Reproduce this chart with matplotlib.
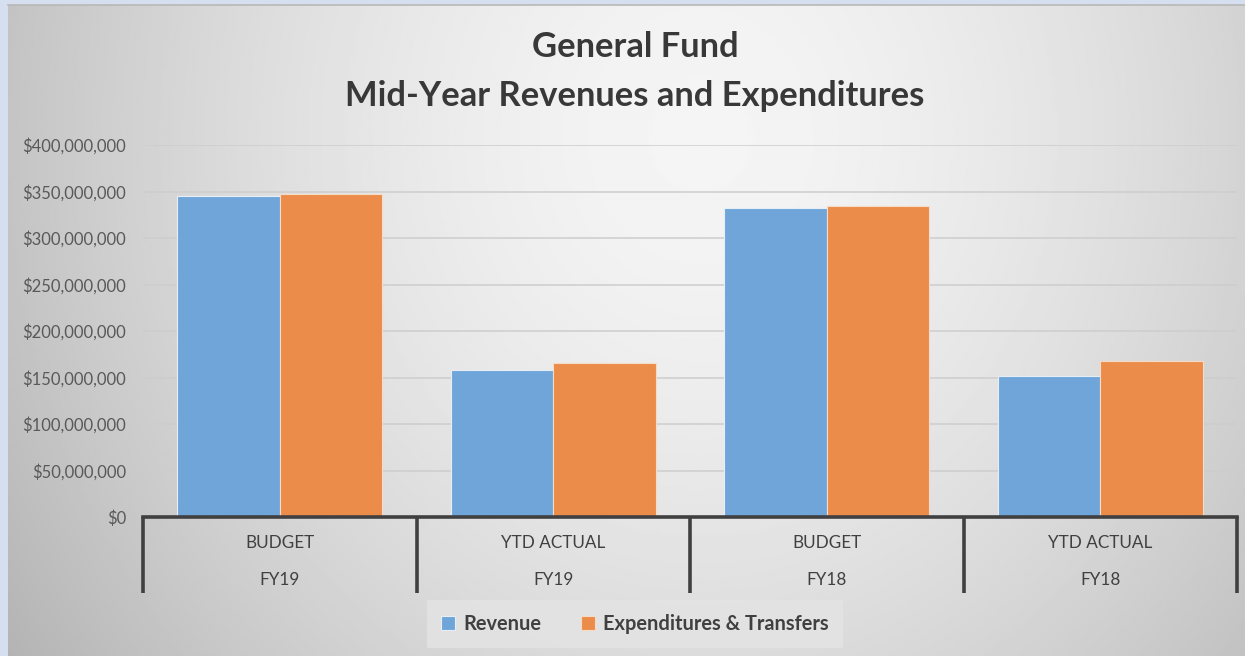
import numpy as np
import matplotlib.pyplot as plt
import matplotlib.transforms as mtransforms
from matplotlib.ticker import FuncFormatter

plt.rcParams['font.family'] = ['Lato', 'DejaVu Sans']

# data
periods = ['BUDGET', 'YTD ACTUAL', 'BUDGET', 'YTD ACTUAL']
years = ['FY19', 'FY19', 'FY18', 'FY18']
revenue = [345200000, 158100000, 332300000, 151600000]
expenditures = [347300000, 165600000, 334400000, 167700000]
series_names = ['Revenue', 'Expenditures & Transfers']

W, H = 1245, 656
fig = plt.figure(figsize=(W / 100, H / 100), dpi=100, facecolor='#d6dff0')

# gradient background of the chart area
bg = fig.add_axes([8 / W, 0, 1 - 8 / W, 1 - 5 / H])
gx, gy = np.meshgrid(np.linspace(0, 1, 400), np.linspace(0, 1, 220))
r = np.sqrt(((gx - 0.56) / 0.56) ** 2 + ((gy - 0.2) / 1.2) ** 2)
shade = np.clip(0.96 - 0.19 * r ** 1.6, 0, 1)
bg.imshow(shade, cmap='gray', vmin=0, vmax=1, aspect='auto', extent=[0, 1, 1, 0])
bg.axis('off')
fig.add_artist(plt.Line2D([8 / W, 1], [1 - 5 / H, 1 - 5 / H], color='#b8b8b8', lw=1.2))

ax = fig.add_axes([143 / W, (H - 517) / H, (1237 - 143) / W, (517 - 145) / H])
ax.patch.set_alpha(0)

x = np.arange(len(periods)) + 0.5
bw = 0.375
ax.bar(x - bw / 2, revenue, bw, color='#6fa5d8', edgecolor='#e8eef6', linewidth=0.8,
       label=series_names[0], zorder=3)
ax.bar(x + bw / 2, expenditures, bw, color='#eb8c4b', edgecolor='#f5dcc8', linewidth=0.8,
       label=series_names[1], zorder=3)

ax.set_xlim(0, len(periods))
ax.set_ylim(0, 400000000)
ax.set_yticks(np.arange(0, 400000001, 50000000))
ax.yaxis.set_major_formatter(FuncFormatter(lambda v, p: '${:,.0f}'.format(v)))
ax.tick_params(axis='y', length=0, pad=12, labelsize=12, labelcolor='#595959')
ax.set_xticks([])
ax.grid(axis='y', color='#cdcdcd', lw=1.1, zorder=0)
for s in ['top', 'right', 'left']:
    ax.spines[s].set_visible(False)
ax.spines['bottom'].set_color('#404040')
ax.spines['bottom'].set_linewidth(2.6)
ax.spines['bottom'].set_zorder(5)

# two-level category axis
trans = mtransforms.blended_transform_factory(ax.transData, ax.transAxes)
depth = (593 - 517) / (517 - 145)
ax.vlines(np.arange(len(periods) + 1), -depth, 0, transform=trans, colors='#404040',
          lw=2.6, clip_on=False)
for xi, p, yr in zip(x, periods, years):
    ax.text(xi, -(543 - 517) / 372, p, transform=trans, ha='center', va='center',
            fontsize=12.3, color='#404040')
    ax.text(xi, -(580 - 517) / 372, yr, transform=trans, ha='center', va='center',
            fontsize=12.3, color='#404040')

fig.text(635 / W, 1 - 47 / H, 'General Fund', ha='center', va='center',
         fontsize=24.8, fontweight='bold', color='#383838')
fig.text(635 / W, 1 - 96 / H, 'Mid-Year Revenues and Expenditures', ha='center',
         va='center', fontsize=24.8, fontweight='bold', color='#383838')

leg = fig.legend(loc='center', bbox_to_anchor=(635 / W, 1 - 624 / H), ncol=2,
                 frameon=True, fancybox=False, handlelength=0.7, handleheight=0.7,
                 handletextpad=0.4, columnspacing=2.0, borderpad=0.7,
                 prop={'weight': 'bold', 'size': 14.4})
leg.get_frame().set_facecolor('#e4e4e4')
leg.get_frame().set_edgecolor('none')
for t in leg.get_texts():
    t.set_color('#404040')

fig.savefig('out.png', dpi=100)
